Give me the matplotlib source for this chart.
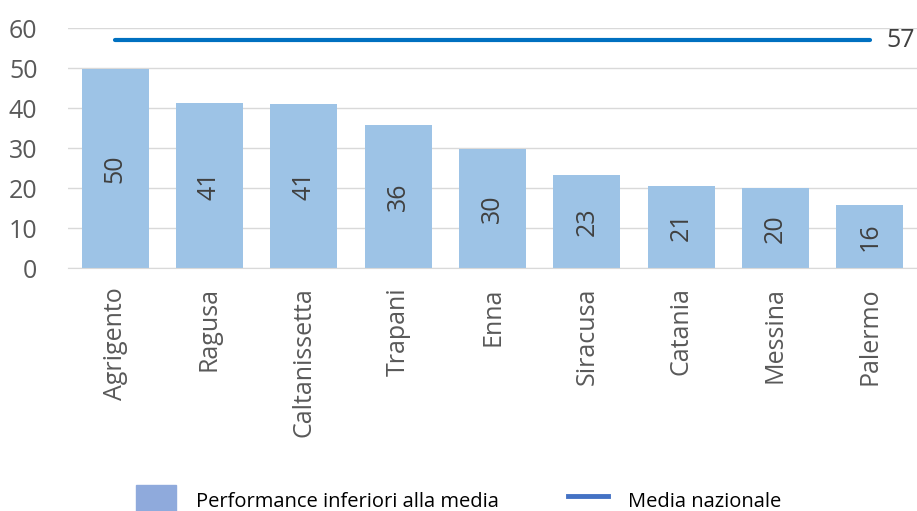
import matplotlib.pyplot as plt
from matplotlib.patches import Patch
from matplotlib.lines import Line2D

# Dati
province = ['Agrigento', 'Ragusa', 'Caltanissetta', 'Trapani', 'Enna',
            'Siracusa', 'Catania', 'Messina', 'Palermo']
valori = [49.7, 41.2, 41.1, 35.8, 29.8, 23.2, 20.6, 19.9, 15.8]
media_nazionale = 57

plt.rcParams['font.family'] = ['Open Sans', 'DejaVu Sans']

fig = plt.figure(figsize=(9.17, 5.11), dpi=100)
ax = fig.add_axes([68 / 917, 1 - 268 / 511, 849 / 917, 240 / 511])

x = range(len(province))
ax.bar(x, valori, width=0.71, color='#9DC3E6', zorder=2)
ax.plot([0, len(province) - 1], [media_nazionale] * 2, color='#0070C0',
        lw=3, solid_capstyle='round', zorder=3)

# Etichette dentro le barre
for i, v in enumerate(valori):
    ax.text(i, v / 2, '%.0f' % v, rotation=90, ha='center', va='center',
            fontsize=18, color='#404040', zorder=4)

ax.text(len(province) - 1 + 0.18, media_nazionale, str(media_nazionale),
        ha='left', va='center', fontsize=18, color='#404040', clip_on=False)

ax.set_xlim(-0.5, len(province) - 0.5)
ax.set_ylim(0, 60)
ax.set_yticks(range(0, 61, 10))
ax.set_xticks(list(x))
ax.set_xticklabels(province, rotation=90, fontsize=18, color='#595959')
ax.tick_params(axis='y', labelsize=18, labelcolor='#595959', length=0, pad=22)
ax.tick_params(axis='x', length=0, pad=14)
ax.grid(axis='y', color='#D9D9D9', lw=1, zorder=0)
for s in ['top', 'right', 'left']:
    ax.spines[s].set_visible(False)
ax.spines['bottom'].set_color('#D9D9D9')

# Legenda
handles = [Patch(color='#8FAADC'), Line2D([], [], color='#4472C4', lw=3.5)]
fig.legend(handles, ['Performance inferiori alla media', 'Media nazionale'],
           loc='lower center', bbox_to_anchor=(0.5, -0.045), ncol=2, frameon=False,
           fontsize=14.5, handlelength=2.0, handleheight=2.0, handletextpad=1.0,
           columnspacing=3.4)

plt.savefig('out.png', dpi=100)
